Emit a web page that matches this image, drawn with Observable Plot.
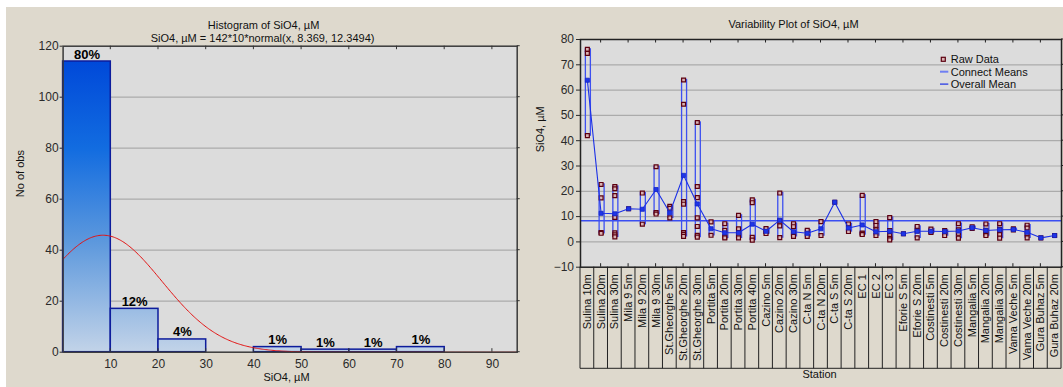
<!DOCTYPE html>
<html>
<head>
<meta charset="utf-8">
<script src="https://cdn.jsdelivr.net/npm/d3@7"></script>
<script src="https://cdn.jsdelivr.net/npm/@observablehq/plot@0.6"></script>
<style>
html, body { margin: 0; padding: 0; background: #ffffff; }
#wrap { position: relative; width: 1063px; height: 387px; overflow: hidden; }
#bg { position: absolute; left: 6px; top: 7px; width: 1057px; height: 380px; background: #ded9cd; }
#left { position: absolute; left: 0; top: 0; }
#right { position: absolute; left: 530px; top: 0; }
</style>
</head>
<body>
<div id="wrap"><div id="bg"></div><div id="left"></div><div id="right"></div></div>
<script>
// ---------------- Histogram data ----------------
const binStarts = [0, 10, 20, 30, 40, 50, 60, 70, 80];
const binCounts = [114, 17, 5, 0, 2, 1, 1, 2, 0];
const binLabels = ["80%", "12%", "4%", "", "1%", "1%", "1%", "1%", ""];
const histTicksX = [10, 20, 30, 40, 50, 60, 70, 80, 90];
const histTicksY = [0, 20, 40, 60, 80, 100, 120];
// fitted normal curve as stated in the chart subtitle: 142*10*normal(x, 8.369, 12.3494)
const fitN = 142, fitBinWidth = 10, fitMean = 8.369, fitSd = 12.3494;
const histTitle = "Histogram of SiO4, µM";
const histSubtitle = "SiO4, µM = 142*10*normal(x, 8.369, 12.3494)";
const histXLabel = "SiO4, µM";
const histYLabel = "No of obs";

// ---------------- Variability plot data ----------------
const stations = ["Sulina 10m", "Sulina 20m", "Sulina 30m", "Mila 9 5m", "Mila 9 20m", "Mila 9 30m",
  "St.Gheorghe 5m", "St.Gheorghe 20m", "St.Gheorghe 30m", "Portita 5m", "Portita 20m", "Portita 30m",
  "Portita 40m", "Cazino 5m", "Cazino 20m", "Cazino 30m", "C-ta N 5m", "C-ta N 20m", "C-ta S 5m",
  "C-ta S 20m", "EC 1", "EC 2", "EC 3", "Eforie S 5m", "Eforie S 20m", "Costinesti 5m",
  "Costinesti 20m", "Costinesti 30m", "Mangalia 5m", "Mangalia 20m", "Mangalia 30m",
  "Vama Veche 5m", "Vama Veche 20m", "Gura Buhaz 5m", "Gura Buhaz 20m"];
const rawValues = [
  [76.1, 74.5, 42.0], [22.7, 17.4, 3.7, 3.4], [21.9, 21.0, 18.3, 9.7, 3.6, 2.8, 2.0], [13.1],
  [19.3, 7.0], [29.7, 11.6, 11.0], [14.1, 13.3, 9.5], [64.0, 54.4, 15.9, 14.9, 3.7, 3.0, 2.2],
  [47.2, 21.9, 17.5, 9.5, 6.1, 2.6, 1.9], [7.9, 2.6], [7.2, 4.6, 2.0, 1.6], [10.5, 5.2, 3.7, 2.6, 1.6],
  [16.6, 15.5, 1.8, 0.7], [5.3, 4.0, 3.3], [19.3, 8.2, 6.3, 1.7], [7.2, 6.0, 3.6, 2.8, 2.2],
  [4.6, 2.2], [8.0, 2.5], [15.7], [7.1, 4.1], [18.4, 3.5, 3.2, 2.9], [8.0, 6.5, 4.8, 2.5],
  [9.6, 4.5, 2.5, 1.4, 0.8], [3.2], [6.1, 4.3, 1.6], [5.1, 4.0, 3.7], [4.5, 3.9, 2.5],
  [7.2, 4.8, 3.4, 1.5], [6.0, 5.3], [7.1, 4.6, 3.0, 2.5], [7.2, 5.0, 4.3, 2.9, 1.5], [5.2, 4.7],
  [6.6, 5.5, 3.2, 1.6], [1.6], [2.5]];
const stationMeans = [63.9, 11.3, 11.1, 13.1, 12.9, 20.7, 11.5, 26.3, 15.0, 5.2, 3.6, 3.6, 7.0, 4.2,
  8.6, 4.0, 3.4, 5.2, 15.7, 5.5, 6.7, 4.0, 4.2, 3.2, 4.2, 4.2, 4.1, 4.3, 5.6, 4.5, 4.8, 4.9, 3.8, 1.6, 2.5];
const overallMean = 8.369;
const varTicksY = [-10, 0, 10, 20, 30, 40, 50, 60, 70, 80];
const varTitle = "Variability Plot of SiO4, µM";
const varYLabel = "SiO4, µM";
const varXLabel = "Station";
const legendLabels = ["Raw Data", "Connect Means", "Overall Mean"];

const FONT = "'Liberation Sans', Arial, Helvetica, sans-serif";

// ---------------- Left: histogram ----------------
const bins = binStarts.map((x0, i) => ({x0, x1: x0 + fitBinWidth, count: binCounts[i], label: binLabels[i]}));
const xMaxHist = 95.2;
const curve = d3.range(0, xMaxHist + 0.001, 0.25).map(x => ({
  x, y: fitN * fitBinWidth * Math.exp(-0.5 * ((x - fitMean) / fitSd) ** 2) / (fitSd * Math.sqrt(2 * Math.PI))
}));

const L = {W: 530, H: 387, ml: 62.6, mr: 13.3, mt: 45.7, mb: 35.3};
const leftPlot = Plot.plot({
  width: L.W, height: L.H,
  marginLeft: L.ml, marginRight: L.mr, marginTop: L.mt, marginBottom: L.mb,
  style: {background: "transparent", fontFamily: FONT, fontSize: "12px", color: "#2a2a2a", overflow: "visible"},
  x: {domain: [0, xMaxHist], ticks: histTicksX, tickSize: 0, tickPadding: 7, label: null},
  y: {domain: [0, 120], ticks: histTicksY, tickSize: 3, tickPadding: 1.5, label: null},
  marks: [
    Plot.frame({fill: "#dcdcdc"}),
    Plot.ruleY(histTicksY.slice(1, -1), {stroke: "#ababab", strokeWidth: 1.2}),
    Plot.rect(bins, {x1: "x0", x2: "x1", y1: 0, y2: "count", fill: "url(#histGrad)", stroke: "#0d1c9c", strokeWidth: 1.5}),
    Plot.line(curve, {x: "x", y: "y", stroke: "#e31212", strokeWidth: 1}),
    Plot.text(bins.filter(d => d.label), {x: d => (d.x0 + d.x1) / 2, y: "count", text: "label",
      fontWeight: "bold", fontSize: 13, fill: "#000", lineAnchor: "bottom", dy: -3}),
    Plot.frame({stroke: "#3a3a3a", strokeWidth: 1.5}),
    Plot.text([histTitle], {frameAnchor: "top", dx: -26.6, dy: -24.9, fontSize: 11, fill: "#111"}),
    Plot.text([histSubtitle], {frameAnchor: "top", dx: -27.6, dy: -12.4, fontSize: 11, fill: "#111"}),
    Plot.text([histXLabel], {frameAnchor: "bottom", dx: -3.6, dy: 28.3, fontSize: 11, fill: "#111"}),
    Plot.text([histYLabel], {frameAnchor: "left", dx: -42.6, dy: -2, rotate: -90, fontSize: 11, fill: "#111"})
  ]
});
document.getElementById("left").appendChild(leftPlot);

{
  const sx = leftPlot.scale("x"), sy = leftPlot.scale("y");
  const svg = d3.select(leftPlot);
  const defs = svg.insert("defs", ":first-child");
  const g = defs.append("linearGradient").attr("id", "histGrad")
    .attr("gradientUnits", "userSpaceOnUse")
    .attr("x1", 0).attr("x2", 0)
    .attr("y1", sy.apply(d3.max(binCounts))).attr("y2", sy.apply(0));
  [[0, "#0049d9"], [0.3, "#126ce0"], [0.62, "#5c98dd"], [1, "#c2d3e8"]]
    .forEach(([o, c]) => g.append("stop").attr("offset", o).attr("stop-color", c));
  const top = L.mt, bottom = L.H - L.mb, right = L.W - L.mr;
  const t = svg.append("g").attr("stroke", "#333").attr("stroke-width", 1);
  histTicksX.forEach(v => {
    const x = sx.apply(v);
    t.append("line").attr("x1", x).attr("x2", x).attr("y1", top).attr("y2", top + 3.5);
    t.append("line").attr("x1", x).attr("x2", x).attr("y1", bottom).attr("y2", bottom - 3.5);
  });
  histTicksY.forEach(v => {
    const y = sy.apply(v);
    t.append("line").attr("x1", right).attr("x2", right + 3).attr("y1", y).attr("y2", y);
  });
}

// ---------------- Right: variability plot ----------------
const idx = stations.map((_, i) => i);
const raw = rawValues.flatMap((vals, i) => vals.map(v => ({i, v})));
const ranges = rawValues.map((vals, i) => ({i, lo: d3.min(vals), hi: d3.max(vals)})).filter(d => d.hi > d.lo);
const means = stationMeans.map((m, i) => ({i, m}));

const R = {W: 533, H: 387, ml: 50, mr: 2, mt: 39, mb: 120.3};
const rightPlot = Plot.plot({
  width: R.W, height: R.H,
  marginLeft: R.ml, marginRight: R.mr, marginTop: R.mt, marginBottom: R.mb,
  style: {background: "transparent", fontFamily: FONT, fontSize: "12px", color: "#2a2a2a", overflow: "visible"},
  x: {domain: [-0.5, stations.length - 0.5], axis: null},
  y: {domain: [-10, 80], ticks: varTicksY, tickSize: 4, tickPadding: 2.5, label: null},
  marks: [
    Plot.frame({fill: "#dcdcdc"}),
    Plot.ruleY(varTicksY.slice(1, -1), {stroke: "#ababab", strokeWidth: 1.2}),
    Plot.ruleY([overallMean], {stroke: "#3a4ef2", strokeWidth: 1.6}),
    Plot.rect(ranges, {x1: "i", x2: "i", y1: "lo", y2: "hi", insetLeft: -1.5, insetRight: -3.5,
      fill: "none", stroke: "#3d50f0", strokeWidth: 1.3}),
    Plot.dot(raw, {x: "i", y: "v", symbol: "square", r: 2.2, stroke: "#5c0010", fill: "#d9b3b3", strokeWidth: 1.2}),
    Plot.line(means, {x: "i", y: "m", stroke: "#1a2fe6", strokeWidth: 1.1}),
    Plot.dot(means, {x: "i", y: "m", symbol: "square", r: 2.3, fill: "#1f35e8", stroke: "#1426c8", strokeWidth: 0.8}),
    Plot.frame({stroke: "#222", strokeWidth: 1.5}),
    Plot.text(idx, {x: d => d, text: d => stations[d], frameAnchor: "bottom", rotate: -90,
      textAnchor: "end", lineAnchor: "middle", dy: 7, fontSize: 11, fill: "#111"}),
    Plot.text([varTitle], {frameAnchor: "top", dx: -27.5, dy: -19, fontSize: 11, fill: "#111"}),
    Plot.text([varYLabel], {frameAnchor: "left", dx: -40, dy: -1, rotate: -90, fontSize: 11, fill: "#111"}),
    Plot.text([varXLabel], {frameAnchor: "bottom", dx: -1.5, dy: 110.3, fontSize: 11, fill: "#111"})
  ]
});
document.getElementById("right").appendChild(rightPlot);

{
  const sx = rightPlot.scale("x"), sy = rightPlot.scale("y");
  const svg = d3.select(rightPlot);
  const top = R.mt, bottom = R.H - R.mb, right = R.W - R.mr, left = R.ml;
  const tableBottom = bottom + 101.6;
  const t = svg.append("g").attr("stroke", "#222").attr("stroke-width", 1);
  // category table lines
  d3.range(stations.length + 1).forEach(k => {
    const x = sx.apply(k - 0.5);
    t.append("line").attr("x1", x).attr("x2", x).attr("y1", bottom).attr("y2", tableBottom);
  });
  t.append("line").attr("x1", left).attr("x2", right).attr("y1", tableBottom).attr("y2", tableBottom);
  // frame ticks
  idx.filter(i => i % 2 === 1).forEach(i => {
    const x = sx.apply(i);
    t.append("line").attr("x1", x).attr("x2", x).attr("y1", top).attr("y2", top + 3.5);
    t.append("line").attr("x1", x).attr("x2", x).attr("y1", bottom).attr("y2", bottom - 3.5);
  });
  varTicksY.forEach(v => {
    const y = sy.apply(v);
    t.append("line").attr("x1", right).attr("x2", right + 3).attr("y1", y).attr("y2", y);
  });
  // legend
  const lg = svg.append("g").attr("font-family", FONT).attr("font-size", 11).attr("fill", "#111")
    .attr("text-anchor", "start");
  const ly = [59.3, 71.7, 84.1];
  lg.append("rect").attr("x", 411.3).attr("y", ly[0] - 2).attr("width", 4).attr("height", 4)
    .attr("fill", "#d9b3b3").attr("stroke", "#5c0010").attr("stroke-width", 1.2);
  lg.append("line").attr("x1", 410).attr("x2", 418.3).attr("y1", ly[1]).attr("y2", ly[1])
    .attr("stroke", "#6f7ff2").attr("stroke-width", 2);
  lg.append("line").attr("x1", 410).attr("x2", 418.3).attr("y1", ly[2]).attr("y2", ly[2])
    .attr("stroke", "#1a2fe6").attr("stroke-width", 1.2);
  legendLabels.forEach((s, k) => lg.append("text").attr("x", 420.7).attr("y", ly[k])
    .attr("dy", "0.35em").attr("text-anchor", "start").text(s));
}
</script>
</body>
</html>
